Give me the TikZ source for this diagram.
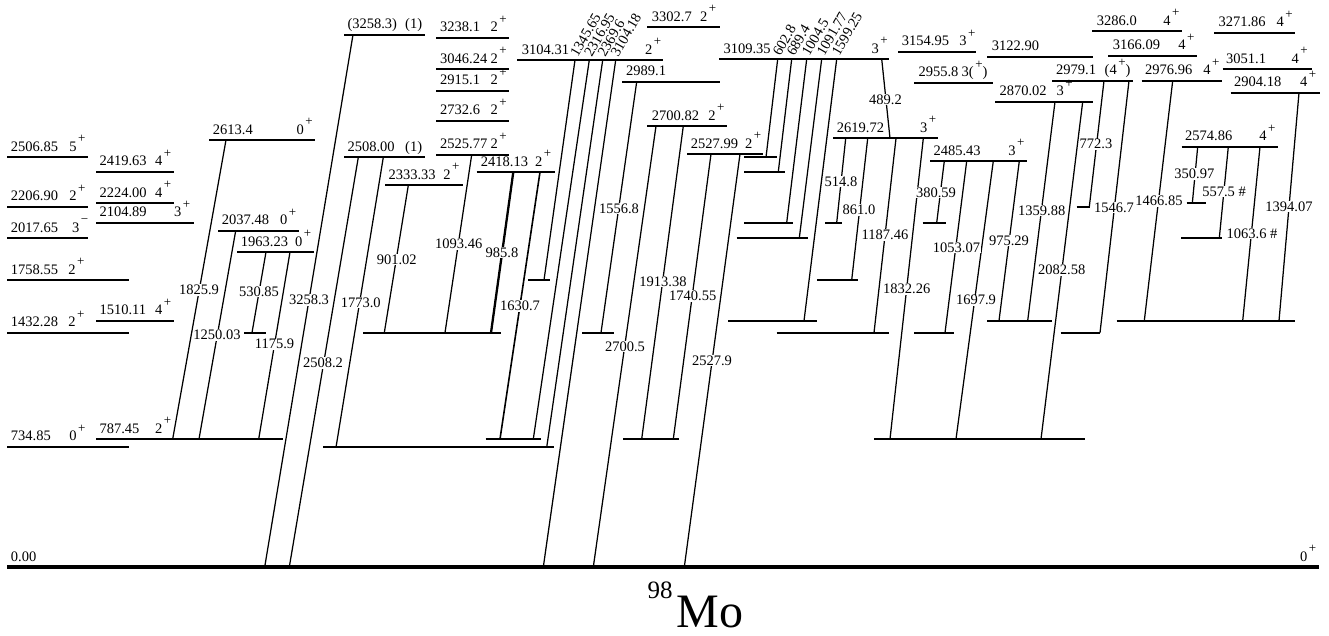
\documentclass[tikz,border=0pt]{standalone}
\usepackage{fontspec}
\setmainfont{Liberation Serif}
\newcommand{\SPp}{\hspace{1.5pt}\raisebox{8.5pt}{\fontsize{13}{13}\selectfont +}}
\newcommand{\SPm}{\hspace{1.5pt}\raisebox{8.5pt}{\fontsize{13}{13}\selectfont −}}
\newcommand{\Lv}[4]{\coordinate (#1l) at (#2,#4); \coordinate (#1r) at (#3,#4); \draw[lev] (#1l) -- (#1r);}
\newcommand{\Tr}[4]{\coordinate (#1t) at (#2); \coordinate (#1b) at (#3); \draw[#4] (#1t) -- (#1b);}
\tikzset{
 lev/.style={line width=1.7pt},
 gnd/.style={line width=3.4pt},
 tr/.style={line width=1.25pt},
 trm/.style={line width=1.6pt},
 trk/.style={line width=2.3pt},
 el/.style={anchor=base west, inner sep=0pt, font=\fontsize{14.5}{16}\selectfont},
 tl/.style={fill=white, inner sep=0.6pt, font=\fontsize{14.5}{16}\selectfont},
 rl/.style={anchor=south west, rotate=60, inner sep=0pt, font=\fontsize{14.5}{16}\selectfont},
}
\begin{document}
\begin{tikzpicture}[x=1pt,y=-1pt]
\useasboundingbox (0,0) rectangle (1329,635);
% ground
\coordinate (L0l) at (7,567); \coordinate (L0r) at (1319,567);
\draw[gnd] (L0l) -- (L0r);
\node[el] (n0) at (10.7,561) {0.00};
\node[el] (s0) at (1300,561) {0\SPp};
% column 1
\Lv{L2506}{7}{88}{157.3}
\Lv{L2206}{7}{88}{206.7}
\Lv{L2017}{7}{88}{238}
\Lv{L1758}{7}{129}{280}
\Lv{L1432}{7}{129}{332.7}
\Lv{L734}{7}{129}{446.7}
\node[el] at (10.7,151.3) {2506.85}; \node[el] at (69.2,151.3) {5\SPp};
\node[el] at (10.7,200.7) {2206.90}; \node[el] at (69.2,200.7) {2\SPp};
\node[el] at (10.7,232) {2017.65}; \node[el] at (72,232) {3\SPm};
\node[el] at (10.7,274) {1758.55}; \node[el] at (68.2,274) {2\SPp};
\node[el] at (10.7,326.7) {1432.28}; \node[el] at (68.2,326.7) {2\SPp};
\node[el] at (10.7,440.7) {734.85}; \node[el] at (69.2,440.7) {0\SPp};
% column 2
\Lv{L2419}{96}{174}{171.7}
\Lv{L2224}{96}{174}{203.3}
\Lv{L2104}{96}{194}{222.7}
\Lv{L1510}{96}{174}{320.7}
\Lv{L787}{96}{283}{439}
\node[el] at (99.3,165.7) {2419.63}; \node[el] at (154.8,165.7) {4\SPp};
\node[el] at (99.3,197.3) {2224.00}; \node[el] at (154.8,197.3) {4\SPp};
\node[el] at (99.3,216.7) {2104.89}; \node[el] at (173.8,216.7) {3\SPp};
\node[el] at (99.3,314.7) {1510.11}; \node[el] at (154.8,314.7) {4\SPp};
\node[el] at (99.3,433) {787.45}; \node[el] at (154.8,433) {2\SPp};
% column 3
\Lv{L2613}{209}{315}{140}
\Lv{L2037}{218}{299}{230.7}
\Lv{L1963}{237}{314}{252}
\Lv{L1432a}{244}{266}{332.7}
\node[el] at (212.7,134) {2613.4}; \node[el] at (296.5,134) {0\SPp};
\node[el] at (221.7,224.7) {2037.48}; \node[el] at (279.8,224.7) {0\SPp};
\node[el] at (240.7,246) {1963.23}; \node[el] at (294.8,246) {0\SPp};
% column 4
\Lv{L3258}{344}{425}{34.7}
\Lv{L2508}{344}{425}{157.3}
\Lv{L2333}{385}{462.7}{185.3}
\Lv{L3238}{436}{509}{37.7}
\Lv{L3046}{436}{509}{69.3}
\Lv{L2915}{436}{509}{90.7}
\Lv{L2732}{436}{509}{120.7}
\Lv{L2525}{436}{509}{154.7}
\Lv{L2418}{476.7}{555}{172}
\Lv{L1432b}{363.3}{500.7}{332.7}
\Lv{L787b}{485.7}{541}{439}
\Lv{L734b}{323}{554.3}{447.3}
\Lv{L1758b}{528.3}{550}{280}
\node[el] at (347.3,28.7) {(3258.3)}; \node[el] at (405,28.7) {(1)};
\node[el] at (347.3,151.3) {2508.00}; \node[el] at (405,151.3) {(1)};
\node[el] at (388.3,179.3) {2333.33}; \node[el] at (443.2,179.3) {2\SPp};
\node[el] at (440,31.7) {3238.1}; \node[el] at (490.5,31.7) {2\SPp};
\node[el] at (440,63.3) {3046.24}; \node[el] at (490.5,63.3) {2\SPp};
\node[el] at (440,84.7) {2915.1}; \node[el] at (490.5,84.7) {2\SPp};
\node[el] at (440,114.7) {2732.6}; \node[el] at (490.5,114.7) {2\SPp};
\node[el] at (440,148.7) {2525.77}; \node[el] at (490.5,148.7) {2\SPp};
\node[el] at (480.7,166) {2418.13}; \node[el] at (534.8,166) {2\SPp};
% column 5
\Lv{L3104}{517.3}{663}{60}
\Lv{L2989}{622.3}{720}{81.7}
\Lv{L1432c}{582.3}{614.3}{332.7}
\Lv{L3302}{647.3}{720}{27.3}
\Lv{L2700}{647.3}{727.3}{126}
\Lv{L2527}{687.3}{763.3}{154}
\Lv{L787c}{623.3}{679.3}{439}
\node[el] at (521.7,54) {3104.31}; \node[el] at (644.8,54) {2\SPp};
\node[el] at (626,75.7) {2989.1};
\node[el] at (651.7,21.3) {3302.7}; \node[el] at (699.8,21.3) {2\SPp};
\node[el] at (651.7,120) {2700.82}; \node[el] at (708.2,120) {2\SPp};
\node[el] at (690.7,148) {2527.99}; \node[el] at (744.8,148) {2\SPp};
% column 6
\Lv{L3109}{719.3}{889.3}{59}
\Lv{L2506b}{744}{776.7}{157.3}
\Lv{L2419b}{744}{785}{171.7}
\Lv{L2104b}{744}{792.7}{222.7}
\Lv{L2017b}{736.7}{808.3}{238}
\Lv{L1510b}{728.3}{817.3}{320.7}
\Lv{L2619}{833.3}{938.3}{138.3}
\Lv{L2104c}{825}{841.7}{222.7}
\Lv{L1758c}{817.3}{857.7}{280}
\Lv{L1432d}{776.7}{889.3}{332.7}
\Lv{L787d}{874.3}{1085}{439}
\node[el] at (723.3,53) {3109.35}; \node[el] at (871.5,53) {3\SPp};
\node[el] at (836.7,132.3) {2619.72}; \node[el] at (919.8,132.3) {3\SPp};
% column 7
\Lv{L3154}{898.3}{976}{51.7}
\Lv{L2955}{914.3}{993}{82.7}
\Lv{L2485}{930}{1027}{161}
\Lv{L2104d}{922.7}{946}{222.7}
\Lv{L1432e}{914.3}{954.3}{332.7}
\Lv{L1510c}{987.3}{1051.7}{320.7}
\node[el] at (901.7,45.7) {3154.95}; \node[el] at (959.2,45.7) {3\SPp};
\node[el] at (918.3,76.7) {2955.8}; \node[el] at (961.5,76.7) {3(\SPp)};
\node[el] at (933.3,155) {2485.43}; \node[el] at (1008.2,155) {3\SPp};
% column 8
\Lv{L3122}{987.3}{1092.7}{56.7}
\Lv{L2870}{995}{1092.7}{101.7}
\Lv{L2979}{1052.3}{1132.7}{80.7}
\Lv{L2206b}{1076.7}{1090}{206.7}
\Lv{L1432f}{1060.7}{1100}{332.7}
\node[el] at (991.7,50.7) {3122.90};
\node[el] at (999.3,95.7) {2870.02}; \node[el] at (1056.5,95.7) {3\SPp};
\node[el] at (1056,74.7) {2979.1}; \node[el] at (1104.5,74.7) {(4\SPp)};
% column 9
\Lv{L3286}{1092.3}{1181.7}{31}
\Lv{L3166}{1108.3}{1197.3}{55.7}
\Lv{L2976}{1141.7}{1221.7}{80.7}
\Lv{L3271}{1214.3}{1295}{32.7}
\Lv{L3051}{1222.7}{1311.7}{69}
\Lv{L2904}{1230.7}{1320}{92.7}
\Lv{L2574}{1181.7}{1278.3}{146.7}
\Lv{L2224b}{1186.7}{1205.7}{203.3}
\Lv{L2017c}{1181}{1222.3}{238}
\Lv{L1510d}{1116.7}{1295}{320.7}
\node[el] at (1096.7,25) {3286.0}; \node[el] at (1163.2,25) {4\SPp};
\node[el] at (1112.7,49.7) {3166.09}; \node[el] at (1178.2,49.7) {4\SPp};
\node[el] at (1145,74.7) {2976.96}; \node[el] at (1203.2,74.7) {4\SPp};
\node[el] at (1218.3,26.7) {3271.86}; \node[el] at (1276.5,26.7) {4\SPp};
\node[el] at (1226,63) {3051.1}; \node[el] at (1291.5,63) {4\SPp};
\node[el] at (1234,86.7) {2904.18}; \node[el] at (1299.8,86.7) {4\SPp};
\node[el] at (1185,140.7) {2574.86}; \node[el] at (1259.2,140.7) {4\SPp};
% transitions
\Tr{t1825}{226,140}{172.7,439}{tr}
\Tr{t1250}{235.7,230.7}{199,439}{tr}
\Tr{t530}{266,252}{252,332.7}{tr}
\Tr{t1175}{290,252}{258.7,439}{tr}
\Tr{t3258}{353,34.7}{264.7,567}{tr}
\Tr{t2508}{358.3,157.3}{289.3,567}{tr}
\Tr{t1773}{383.3,157.3}{336,447.3}{tr}
\Tr{t901}{408.3,185.3}{384.3,332.7}{tr}
\Tr{t1093}{471.7,154.7}{445,332.7}{tr}
\Tr{t985}{513.3,172}{491,332.7}{trk}
\Tr{t1630}{540,172}{500,439}{trm}
\Tr{t1345}{575,60}{544,280}{tr}
\Tr{t2316}{589.3,60}{533.3,439}{tr}
\Tr{t2369}{602.7,60}{546.7,447.3}{tr}
\Tr{t3104}{615.7,60}{543.3,567}{tr}
\Tr{t1556}{636.7,81.7}{601,332.7}{tr}
\Tr{t2700}{656,126}{593.3,567}{tr}
\Tr{t1913}{683.3,126}{641.7,439}{tr}
\Tr{t1740}{711,154}{673.3,439}{tr}
\Tr{t2527}{740,154}{684.3,567}{tr}
\Tr{t602}{777.7,59}{766,157.3}{tr}
\Tr{t689}{791.7,59}{778.3,171.7}{tr}
\Tr{t1004}{806.7,59}{786.7,222.7}{tr}
\Tr{t1091}{821.7,59}{799.3,238}{tr}
\Tr{t1599}{836.7,59}{804,320.7}{tr}
\Tr{t489}{881.7,59}{890,138.3}{tr}
\Tr{t514}{845.7,138.3}{836.7,222.7}{tr}
\Tr{t861}{867.7,138.3}{851.7,280}{tr}
\Tr{t1187}{896,138.3}{874,332.7}{tr}
\Tr{t1832}{923.3,138.3}{890,439}{tr}
\Tr{t380}{944.3,161}{936.7,222.7}{tr}
\Tr{t1053}{966.7,161}{945,332.7}{tr}
\Tr{t1697}{993.3,161}{956,439}{tr}
\Tr{t975}{1019.3,161}{999,320.7}{tr}
\Tr{t1359}{1055,101.7}{1027.7,320.7}{tr}
\Tr{t2082}{1082.7,101.7}{1041,439}{tr}
\Tr{t772}{1104,80.7}{1089.3,206.7}{tr}
\Tr{t1546}{1129,80.7}{1100,332.7}{tr}
\Tr{t1466}{1172.7,80.7}{1144.3,320.7}{tr}
\Tr{t1394}{1299,92.7}{1279,320.7}{tr}
\Tr{t350}{1197.7,146.7}{1192.3,203.3}{tr}
\Tr{t557}{1228.3,146.7}{1219.3,238}{tr}
\Tr{t1063}{1260,146.7}{1242.7,320.7}{tr}
% transition labels
\node[tl] (t1825l) at (199,290) {1825.9};
\node[tl] (t1250l) at (217,335) {1250.03};
\node[tl] (t530l) at (259,291.7) {530.85};
\node[tl] (t1175l) at (274.5,344) {1175.9};
\node[tl] (t3258l) at (309,300) {3258.3};
\node[tl] (t2508l) at (323,363) {2508.2};
\node[tl] (t1773l) at (360.7,302.7) {1773.0};
\node[tl] (t901l) at (396.7,259.3) {901.02};
\node[tl] (t1093l) at (458.7,244) {1093.46};
\node[tl] (t985l) at (502,252.7) {985.8};
\node[tl] (t1630l) at (520,306) {1630.7};
\node[tl] (t1556l) at (619,208.3) {1556.8};
\node[tl] (t2700l) at (625,346.7) {2700.5};
\node[tl] (t1913l) at (663,281.7) {1913.38};
\node[tl] (t1740l) at (692.7,296) {1740.55};
\node[tl] (t2527l) at (712,360.7) {2527.9};
\node[tl] (t489l) at (885.5,99.3) {489.2};
\node[tl] (t514l) at (841,181.7) {514.8};
\node[tl] (t861l) at (859,210) {861.0};
\node[tl] (t1187l) at (885,235) {1187.46};
\node[tl] (t1832l) at (906.7,289) {1832.26};
\node[tl] (t380l) at (936,192.7) {380.59};
\node[tl] (t1053l) at (956.5,247.3) {1053.07};
\node[tl] (t1697l) at (976,300) {1697.9};
\node[tl] (t975l) at (1009,240.7) {975.29};
\node[tl] (t1359l) at (1041.7,210.7) {1359.88};
\node[tl] (t2082l) at (1061.7,270) {2082.58};
\node[tl] (t772l) at (1096,144) {772.3};
\node[tl] (t1546l) at (1114,207.7) {1546.7};
\node[tl] (t1466l) at (1159,201) {1466.85};
\node[tl] (t1394l) at (1289,206.7) {1394.07};
\node[tl] (t350l) at (1194.3,174) {350.97};
\node[tl] (t557l) at (1224,191.7) {557.5 \#};
\node[tl] (t1063l) at (1252,233.3) {1063.6 \#};
% rotated labels
\node[rl] (t1345l) at (578,58) {1345.65};
\node[rl] (t2316l) at (592,58) {2316.95};
\node[rl] (t2369l) at (605.5,58) {2369.6};
\node[rl] (t3104l) at (618.5,58) {3104.18};
\node[rl] (t602l) at (780.5,57) {602.8};
\node[rl] (t689l) at (794.5,57) {689.4};
\node[rl] (t1004l) at (809.5,57) {1004.5};
\node[rl] (t1091l) at (824.5,57) {1091.77};
\node[rl] (t1599l) at (839.5,57) {1599.25};
% title
\node[anchor=base west, inner sep=0pt, font=\fontsize{25}{25}\selectfont] (mass) at (647.3,598.3) {98};
\node[anchor=base west, inner sep=0pt, font=\fontsize{48}{48}\selectfont] (elem) at (676.7,627.5) {Mo};
\end{tikzpicture}
\end{document}
